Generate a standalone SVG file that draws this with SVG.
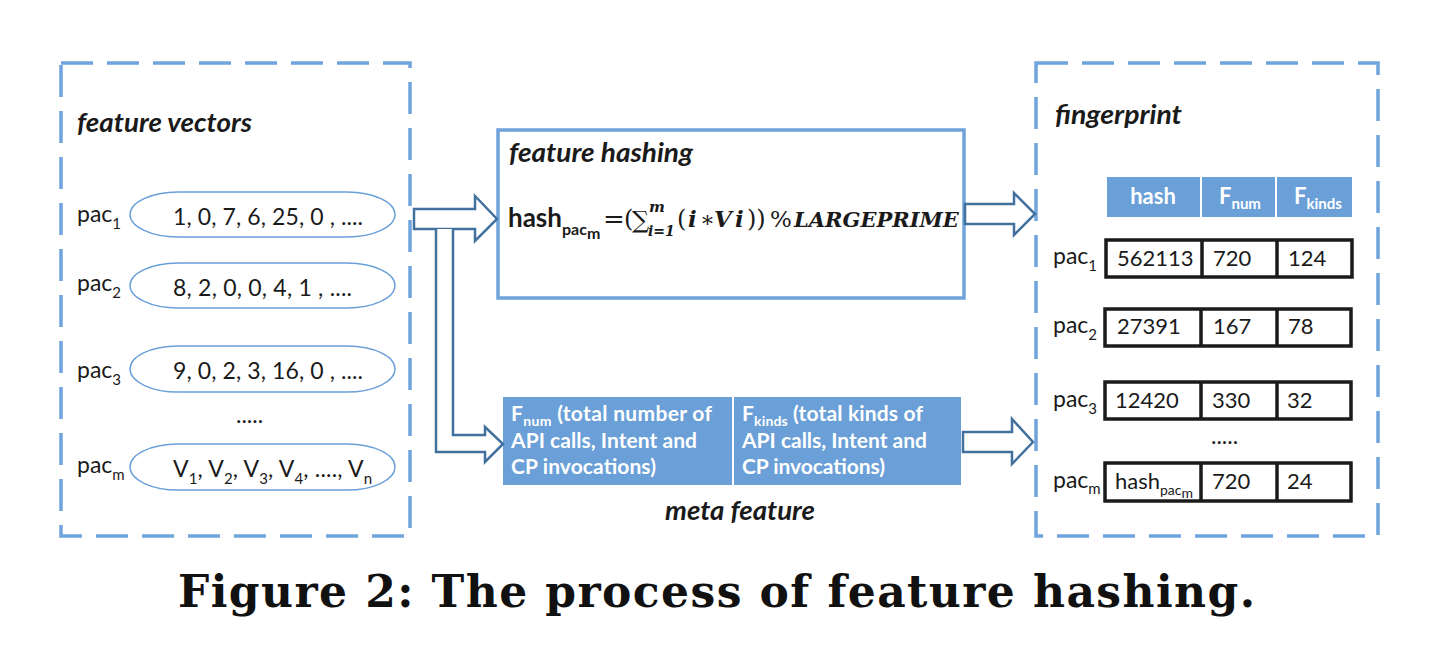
<svg xmlns="http://www.w3.org/2000/svg" width="1450" height="670" viewBox="0 0 1450 670">
<style>
.dash{fill:none;stroke:#6fa4dc;stroke-width:3.5;stroke-dasharray:32 14}
.pill{fill:#fff;stroke:#6a9fd8;stroke-width:1.4}
.t{font-family:Lato,"Open Sans","Liberation Sans",sans-serif;fill:#1a1a1a}
.ti{font-family:Lato,"Open Sans","Liberation Sans",sans-serif;font-weight:bold;font-style:italic;fill:#1a1a1a}
.tb{font-family:Lato,"Open Sans","Liberation Sans",sans-serif;font-weight:bold;font-style:normal}
.tw{font-family:Lato,"Open Sans","Liberation Sans",sans-serif;font-weight:bold;fill:#fff}
.m{font-family:"DejaVu Serif","Liberation Serif",serif;font-weight:normal;font-style:normal}
.mbi{font-family:"DejaVu Serif","Liberation Serif",serif;font-weight:bold;font-style:italic}
.fill{fill:#6a9fd8}
.row{fill:#fff;stroke:#1a1a1a;stroke-width:3.5}
.div{stroke:#1a1a1a;stroke-width:3.5}
.arr{fill:#fff;stroke:#41719c;stroke-width:2.5;stroke-linejoin:miter}
</style>

<g id="panel-feature-vectors">
<rect class="dash" x="61" y="63" width="349" height="473"/>
<text class="ti" x="77" y="132" font-size="26" textLength="175" lengthAdjust="spacingAndGlyphs">feature vectors</text>
</g>

<g id="vec-pac1">
<text class="t" x="77" y="222" font-size="23">pac<tspan font-size="15" y="229">1</tspan></text>
<rect class="pill" x="130" y="192" width="265" height="45" rx="48" ry="22.5"/>
<text class="t" x="173" y="225" font-size="23" textLength="190">1, 0, 7, 6, 25, 0 , ....</text>
</g>
<g id="vec-pac2">
<text class="t" x="77" y="291" font-size="23">pac<tspan font-size="15" y="298">2</tspan></text>
<rect class="pill" x="130" y="263" width="265" height="45" rx="48" ry="22.5"/>
<text class="t" x="173" y="296" font-size="23" textLength="179">8, 2, 0, 0, 4, 1 , ....</text>
</g>
<g id="vec-pac3">
<text class="t" x="77" y="378" font-size="23">pac<tspan font-size="15" y="385">3</tspan></text>
<rect class="pill" x="130" y="346" width="265" height="46" rx="48" ry="23"/>
<text class="t" x="173" y="379" font-size="23" textLength="190">9, 0, 2, 3, 16, 0 , ....</text>
</g>
<text class="t" x="236" y="423" font-size="23">.....</text>
<g id="vec-pacm">
<text class="t" x="77" y="473" font-size="23">pac<tspan font-size="15" y="480">m</tspan></text>
<rect class="pill" x="130" y="444" width="265" height="46" rx="48" ry="23"/>
<text class="t" x="173" y="477" font-size="23" textLength="199">V<tspan font-size="15" y="484">1</tspan><tspan y="477">, V</tspan><tspan font-size="15" y="484">2</tspan><tspan y="477">, V</tspan><tspan font-size="15" y="484">3</tspan><tspan y="477">, V</tspan><tspan font-size="15" y="484">4</tspan><tspan y="477">, ...., V</tspan><tspan font-size="15" y="484">n</tspan></text>
</g>

<g id="node-feature-hashing">
<rect x="498" y="130" width="466" height="168" fill="#fff" stroke="#6fa3d9" stroke-width="3.5"/>
<text class="ti" x="509" y="162" font-size="26" textLength="184" lengthAdjust="spacingAndGlyphs">feature hashing</text>
<text x="508" y="227" fill="#1a1a1a"><tspan class="tb" font-size="26">hash</tspan><tspan class="tb" font-size="16" y="235">pac</tspan><tspan class="tb" font-size="16" y="239">m</tspan><tspan class="m" font-size="26" x="603" y="228">=</tspan><tspan class="m" font-size="24" x="624" y="227">(</tspan><tspan class="m" font-size="24" x="632" y="228">∑</tspan><tspan class="mbi" font-size="15" x="649" y="212">m</tspan><tspan class="mbi" font-size="14" x="648" y="236">i=1</tspan><tspan class="m" font-size="24" x="677" y="227">(</tspan><tspan class="mbi" font-size="23" x="688">i</tspan><tspan class="m" font-size="22" x="700">∗</tspan><tspan class="mbi" font-size="23" x="714">V</tspan><tspan class="mbi" font-size="23" x="735">i</tspan><tspan class="m" font-size="24" x="747">))</tspan><tspan class="m" font-size="23" x="770">%</tspan><tspan class="mbi" font-size="21" x="794">LARGEPRIME</tspan></text>
</g>

<g id="node-meta-fnum">
<rect class="fill" x="503" y="397" width="229" height="88"/>
<text class="tw" x="511" y="421" font-size="21" textLength="201">F<tspan font-size="14" y="426">num</tspan><tspan y="421"> (total number of</tspan></text>
<text class="tw" x="511" y="448" font-size="21" textLength="186">API calls, Intent and</text>
<text class="tw" x="511" y="474" font-size="21" textLength="145">CP invocations)</text>
</g>
<g id="node-meta-fkinds">
<rect class="fill" x="734" y="397" width="227" height="88"/>
<text class="tw" x="742" y="421" font-size="21" textLength="181">F<tspan font-size="14" y="426">kinds</tspan><tspan y="421"> (total kinds of</tspan></text>
<text class="tw" x="742" y="448" font-size="21" textLength="185">API calls, Intent and</text>
<text class="tw" x="742" y="474" font-size="21" textLength="143">CP invocations)</text>
</g>
<text class="ti" x="665" y="520" font-size="26" textLength="150" lengthAdjust="spacingAndGlyphs">meta feature</text>

<g id="panel-fingerprint">
<rect class="dash" x="1036" y="63" width="342" height="473"/>
<text class="ti" x="1055" y="124" font-size="26" textLength="127" lengthAdjust="spacingAndGlyphs">fingerprint</text>
</g>

<g id="table-header">
<rect class="fill" x="1107" y="177" width="93" height="40"/>
<rect class="fill" x="1202" y="177" width="73" height="40"/>
<rect class="fill" x="1277" y="177" width="75" height="40"/>
<text class="tw" x="1153" y="204" font-size="22" text-anchor="middle">hash</text>
<text class="tw" x="1219" y="204" font-size="22">F<tspan font-size="15" y="209">num</tspan></text>
<text class="tw" x="1294" y="204" font-size="22">F<tspan font-size="15" y="209">kinds</tspan></text>
</g>

<g id="row-pac1">
<text class="t" x="1053" y="264" font-size="23">pac<tspan font-size="15" y="271">1</tspan></text>
<rect class="row" x="1106" y="240" width="246" height="37"/>
<line class="div" x1="1202" y1="240" x2="1202" y2="277"/>
<line class="div" x1="1277" y1="240" x2="1277" y2="277"/>
<text class="t" x="1117" y="266" font-size="22">562113</text>
<text class="t" x="1213" y="266" font-size="22">720</text>
<text class="t" x="1288" y="266" font-size="22">124</text>
</g>
<g id="row-pac2">
<text class="t" x="1053" y="333" font-size="23">pac<tspan font-size="15" y="340">2</tspan></text>
<rect class="row" x="1105" y="309" width="246" height="37"/>
<line class="div" x1="1201" y1="309" x2="1201" y2="346"/>
<line class="div" x1="1277" y1="309" x2="1277" y2="346"/>
<text class="t" x="1117" y="334" font-size="22">27391</text>
<text class="t" x="1213" y="334" font-size="22">167</text>
<text class="t" x="1288" y="334" font-size="22">78</text>
</g>
<g id="row-pac3">
<text class="t" x="1053" y="407" font-size="23">pac<tspan font-size="15" y="414">3</tspan></text>
<rect class="row" x="1105" y="382" width="246" height="37"/>
<line class="div" x1="1201" y1="382" x2="1201" y2="419"/>
<line class="div" x1="1277" y1="382" x2="1277" y2="419"/>
<text class="t" x="1115" y="408" font-size="22">12420</text>
<text class="t" x="1212" y="408" font-size="22">330</text>
<text class="t" x="1287" y="408" font-size="22">32</text>
</g>
<text class="t" x="1211" y="444" font-size="23">.....</text>
<g id="row-pacm">
<text class="t" x="1053" y="488" font-size="23">pac<tspan font-size="15" y="494">m</tspan></text>
<rect class="row" x="1105" y="463" width="246" height="38"/>
<line class="div" x1="1201" y1="463" x2="1201" y2="501"/>
<line class="div" x1="1277" y1="463" x2="1277" y2="501"/>
<text class="t" x="1115" y="489" font-size="22">hash<tspan font-size="14" y="495">pac</tspan><tspan font-size="14" y="498">m</tspan></text>
<text class="t" x="1212" y="489" font-size="22">720</text>
<text class="t" x="1287" y="489" font-size="22">24</text>
</g>

<g id="connectors">
<polygon class="arr" points="414,209 475,209 475,196 497,219 475,241 475,229 414,229"/>
<polyline class="arr" points="436,229 436,452 485,452 485,462 503,444 485,427 485,435 453,435 453,229"/>
<polygon class="arr" points="965,204 1014,204 1014,193 1035,214 1014,235 1014,224 965,224"/>
<polygon class="arr" points="963,432 1012,432 1012,419 1033,442 1012,464 1012,452 963,452"/>
</g>

<text id="caption" x="178" y="607" font-family="'DejaVu Serif','Liberation Serif',serif" font-weight="bold" font-size="44" fill="#111" textLength="1077">Figure 2: The process of feature hashing.</text>
</svg>
